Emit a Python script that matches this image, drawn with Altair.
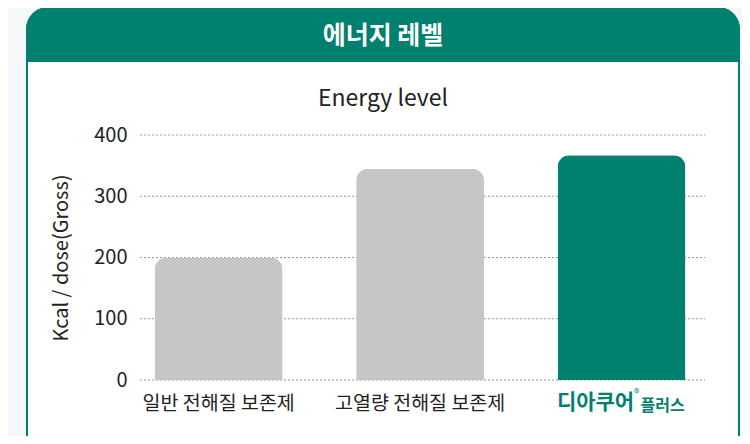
import altair as alt
import pandas as pd

# ---- data ----
categories = ["일반 전해질 보존제", "고열량 전해질 보존제", "디아쿠어®플러스"]
values = [200, 345, 367]
bar_colors = ["#c6c6c6", "#c6c6c6", "#00806e"]
y_ticks = [0, 100, 200, 300, 400]
header_title = ["에너지 레벨"]
chart_title = ["Energy level"]
y_title = "Kcal / dose(Gross)"
logo_main = ["디아쿠어"]
logo_reg = ["®"]
logo_sub = ["플러스"]

TEAL = "#00806e"
FONT = "Noto Sans CJK KR"
W, H = 565, 245

df = pd.DataFrame({"cat": categories, "val": values, "color": bar_colors})
grid_df = pd.DataFrame({"v": y_ticks})

x_scale = alt.Scale(domain=categories, paddingInner=0.365, paddingOuter=0.085, align=0.43)
y_scale = alt.Scale(domain=[0, 400], nice=False)

# card background (decoration)
card = alt.Chart(pd.DataFrame({"k": [0]})).mark_rect(
    fill="white", stroke=TEAL, strokeWidth=2, cornerRadius=22
).encode(
    x=alt.value(-113), x2=alt.value(599),
    y=alt.value(-127), y2=alt.value(360)
)
header = alt.Chart(pd.DataFrame({"k": [0]})).mark_rect(
    fill=TEAL, cornerRadiusTopLeft=22, cornerRadiusTopRight=22
).encode(
    x=alt.value(-114), x2=alt.value(600),
    y=alt.value(-128), y2=alt.value(-73)
)
header_text = alt.Chart(pd.DataFrame({"t": header_title})).mark_text(
    font=FONT, fontSize=25, fontWeight="bold", color="white", baseline="middle"
).encode(text="t:N", x=alt.value(243), y=alt.value(-99))

title_text = alt.Chart(pd.DataFrame({"t": chart_title})).mark_text(
    font=FONT, fontSize=23, color="#222222", baseline="middle"
).encode(text="t:N", x=alt.value(243), y=alt.value(-36))

grid = alt.Chart(grid_df).mark_rule(
    color="#9a9a9a", strokeWidth=1, strokeDash=[2, 2]
).encode(
    y=alt.Y("v:Q", scale=y_scale),
    x=alt.value(0), x2=alt.value(W)
)

bars = alt.Chart(df).mark_bar(
    cornerRadiusTopLeft=12, cornerRadiusTopRight=12
).encode(
    x=alt.X("cat:N", scale=x_scale, sort=categories,
            axis=alt.Axis(title=None, ticks=False, domain=False, labelAngle=0, zindex=1,
                          labelFont=FONT, labelFontSize=19.5, labelColor="#222222",
                          labelPadding=14, labelBaseline="top",
                          labelExpr="datum.value == '디아쿠어®플러스' ? '' : datum.label")),
    y=alt.Y("val:Q", scale=y_scale,
            axis=alt.Axis(title=y_title, values=y_ticks, ticks=False, domain=False,
                          grid=False, zindex=1, labelFont=FONT, labelFontSize=20,
                          labelColor="#222222", labelPadding=13,
                          titleFont=FONT, titleFontSize=20, titleFontWeight="normal",
                          titleColor="#222222", titlePadding=22)),
    color=alt.Color("color:N", scale=None)
)

logo_df = pd.DataFrame({"cat": [categories[2]]})
logo1 = alt.Chart(logo_df.assign(t=logo_main)).mark_text(
    font=FONT, fontSize=21, fontWeight="bold", color=TEAL, baseline="middle", dx=-26
).encode(x=alt.X("cat:N", scale=x_scale, sort=categories), text="t:N", y=alt.value(268))
logo2 = alt.Chart(logo_df.assign(t=logo_reg)).mark_text(
    font=FONT, fontSize=11, color=TEAL, baseline="middle", dx=15
).encode(x=alt.X("cat:N", scale=x_scale, sort=categories), text="t:N", y=alt.value(259))
logo3 = alt.Chart(logo_df.assign(t=logo_sub)).mark_text(
    font=FONT, fontSize=16, fontWeight="bold", color=TEAL, baseline="middle", dx=41
).encode(x=alt.X("cat:N", scale=x_scale, sort=categories), text="t:N", y=alt.value(271))

chart = alt.layer(card, header, header_text, title_text, grid, bars, logo1, logo2, logo3).properties(
    width=W, height=H,
    autosize=alt.AutoSizeParams(type="none"),
    padding={"left": 132, "top": 127, "right": 37, "bottom": 56},
    background="#f5f8fa"
).configure_view(stroke=None)

chart.save("out.html", embed_options={"renderer": "svg", "actions": False})
